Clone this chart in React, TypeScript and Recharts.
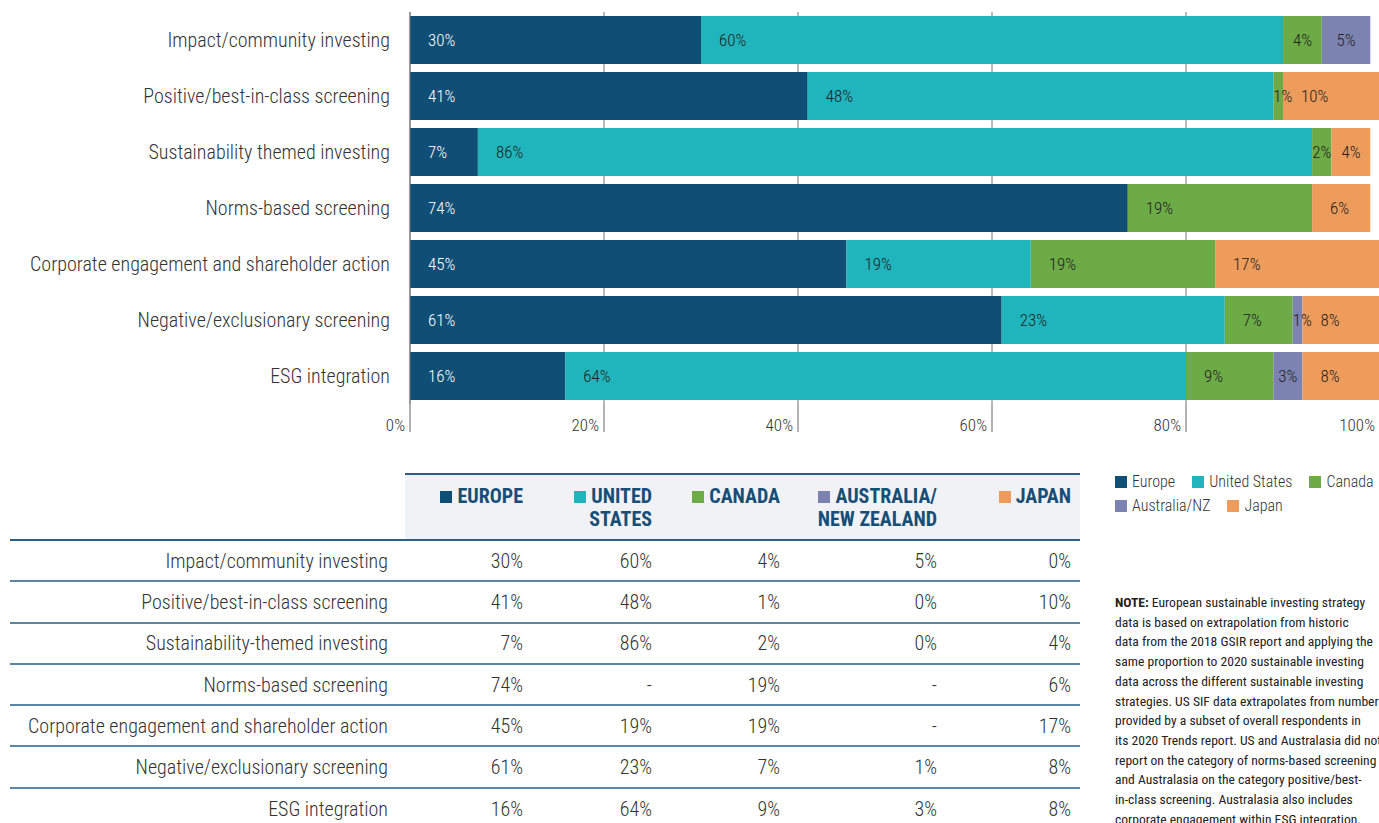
import React from 'react';
import { BarChart, Bar, XAxis, YAxis, CartesianGrid, LabelList } from 'recharts';

const categories = [
  'Impact/community investing',
  'Positive/best-in-class screening',
  'Sustainability themed investing',
  'Norms-based screening',
  'Corporate engagement and shareholder action',
  'Negative/exclusionary screening',
  'ESG integration',
];
const tableLabels = [
  'Impact/community investing',
  'Positive/best-in-class screening',
  'Sustainability-themed investing',
  'Norms-based screening',
  'Corporate engagement and shareholder action',
  'Negative/exclusionary screening',
  'ESG integration',
];

const europe = [30, 41, 7, 74, 45, 61, 16];
const unitedStates = [60, 48, 86, 0, 19, 23, 64];
const canada = [4, 1, 2, 19, 19, 7, 9];
const australiaNz = [5, 0, 0, 0, 0, 1, 3];
const japan = [0, 10, 4, 6, 17, 8, 8];

// cells shown as "-" in the table (category not reported)
const notReported: Record<string, number[]> = {
  unitedStates: [3],
  australiaNz: [3, 4],
};

const xTicks = [0, 20, 40, 60, 80, 100];

const noteLines = [
  'data is based on extrapolation from historic',
  'data from the 2018 GSIR report and applying the',
  'same proportion to 2020 sustainable investing',
  'data across the different sustainable investing',
  'strategies. US SIF data extrapolates from numbers',
  'provided by a subset of overall respondents in',
  'its 2020 Trends report. US and Australasia did not',
  'report on the category of norms-based screening',
  'and Australasia on the category positive/best-',
  'in-class screening. Australasia also includes',
  'corporate engagement within ESG integration.',
];

const FONT = "'Roboto Condensed', 'Liberation Sans Narrow', 'DejaVu Sans Condensed', 'Open Sans', sans-serif";

const series = [
  { key: 'europe', name: 'Europe', header: ['EUROPE'], color: '#0f4f75', text: '#ffffff', values: europe, colW: 130 },
  { key: 'unitedStates', name: 'United States', header: ['UNITED', 'STATES'], color: '#20b5bd', text: '#222222', values: unitedStates, colW: 129 },
  { key: 'canada', name: 'Canada', header: ['CANADA'], color: '#6dab46', text: '#222222', values: canada, colW: 128 },
  { key: 'australiaNz', name: 'Australia/NZ', header: ['AUSTRALIA/', 'NEW ZEALAND'], color: '#7d83b0', text: '#222222', values: australiaNz, colW: 157 },
  { key: 'japan', name: 'Japan', header: ['JAPAN'], color: '#ee9c5c', text: '#222222', values: japan, colW: 131 },
];

const chartData = categories.map((name, i) => {
  const row: Record<string, any> = { name };
  series.forEach(s => { row[s.key] = s.values[i]; });
  return row;
});

const makeLabel = (fill: string) => (props: any) => {
  const { x, y, width, height, value } = props;
  if (!value) return null;
  const text = `${value}%`;
  const tw = text.length * 9.5;
  const pad = Math.max(0, Math.min(18, (width - tw) / 2));
  return (
    <text x={x + pad} y={y + height / 2} dy={6} fill={fill} fontSize={17} fontWeight={300}>
      {text}
    </text>
  );
};

const XTick = (props: any) => {
  const { x, y, payload } = props;
  return (
    <text x={x - 5} y={y - 3} textAnchor="end" fontSize={17} fontWeight={300} fill="#333">
      {payload.value}%
    </text>
  );
};

const cellBorder = '2px solid #5b86a6';

const App: React.FC = () => {
  return (
    <div
      style={{
        position: 'absolute', left: 0, top: 0, width: 1379, height: 823,
        overflow: 'hidden', background: '#fff', fontFamily: FONT, color: '#333',
      }}
    >
      <BarChart
        width={1390}
        height={445}
        data={chartData}
        layout="vertical"
        margin={{ top: 12, right: 10, bottom: 0, left: 0 }}
        barSize={48}
      >
        <CartesianGrid horizontal={false} vertical stroke="#777" />
        <XAxis
          type="number"
          domain={[0, 100]}
          ticks={xTicks}
          axisLine={false}
          tickSize={28}
          tickLine={{ stroke: '#666' }}
          height={41}
          tick={<XTick />}
          interval={0}
        />
        <YAxis
          type="category"
          dataKey="name"
          width={410}
          tickLine={false}
          tickSize={0}
          tickMargin={20}
          axisLine={{ stroke: '#777' }}
          tick={{ fontSize: 20, fill: '#333', fontWeight: 300 }}
          interval={0}
        />
        {series.map(s => (
          <Bar key={s.key} dataKey={s.key} stackId="a" fill={s.color} isAnimationActive={false}>
            <LabelList dataKey={s.key} content={makeLabel(s.text)} />
          </Bar>
        ))}
      </BarChart>

      {/* data table */}
      <table
        style={{
          position: 'absolute', left: 10, top: 473, width: 1070, borderCollapse: 'collapse',
          tableLayout: 'fixed', fontSize: 20, fontWeight: 300, color: '#333',
        }}
      >
        <colgroup>
          <col style={{ width: 395 }} />
          {series.map(s => <col key={s.key} style={{ width: s.colW }} />)}
        </colgroup>
        <thead>
          <tr>
            <th style={{ borderBottom: '2px solid #2d5f85', padding: 0 }} />
            {series.map(s => (
              <th
                key={s.key}
                style={{
                  textAlign: 'right', verticalAlign: 'top', background: '#f0f2f6',
                  borderTop: '2px solid #2d5f85', borderBottom: '2px solid #2d5f85',
                  padding: s.key === 'japan' ? '10px 9px 6px 0' : '10px 12px 6px 0',
                  color: '#174e75', fontWeight: 700, lineHeight: '23px', height: 48,
                  whiteSpace: 'nowrap',
                }}
              >
                <span style={{ display: 'inline-block', width: 12, height: 12, background: s.color, marginRight: 5 }} />
                {s.header[0]}
                {s.header[1] && <><br />{s.header[1]}</>}
              </th>
            ))}
          </tr>
        </thead>
        <tbody>
          {tableLabels.map((label, i) => (
            <tr key={label} style={{ height: 41.3 }}>
              <td style={{ textAlign: 'right', padding: '0 17px 0 0', borderBottom: i < tableLabels.length - 1 ? cellBorder : 'none', whiteSpace: 'nowrap' }}>
                {label}
              </td>
              {series.map(s => (
                <td
                  key={s.key}
                  style={{
                    textAlign: 'right', padding: s.key === 'japan' ? '0 9px 0 0' : '0 12px 0 0',
                    borderBottom: i < tableLabels.length - 1 ? cellBorder : 'none',
                  }}
                >
                  {(notReported[s.key] || []).includes(i) ? '-' : `${s.values[i]}%`}
                </td>
              ))}
            </tr>
          ))}
        </tbody>
      </table>

      {/* legend */}
      <div
        style={{
          position: 'absolute', left: 1115, top: 471, width: 270, display: 'flex', flexWrap: 'wrap',
          columnGap: 17, rowGap: 2, fontSize: 16, fontWeight: 300, color: '#333', lineHeight: '22px',
        }}
      >
        {series.map(s => (
          <div key={s.key} style={{ display: 'flex', alignItems: 'center', whiteSpace: 'nowrap' }}>
            <span style={{ display: 'inline-block', width: 12, height: 12, background: s.color, marginRight: 5 }} />
            {s.name}
          </div>
        ))}
      </div>

      {/* note */}
      <div
        style={{
          position: 'absolute', left: 1115, top: 593, fontSize: 13.6, lineHeight: '19.7px',
          color: '#222', whiteSpace: 'nowrap',
        }}
      >
        <div><b>NOTE:</b> European sustainable investing strategy</div>
        {noteLines.map(l => <div key={l}>{l}</div>)}
      </div>
    </div>
  );
};

export default App;
